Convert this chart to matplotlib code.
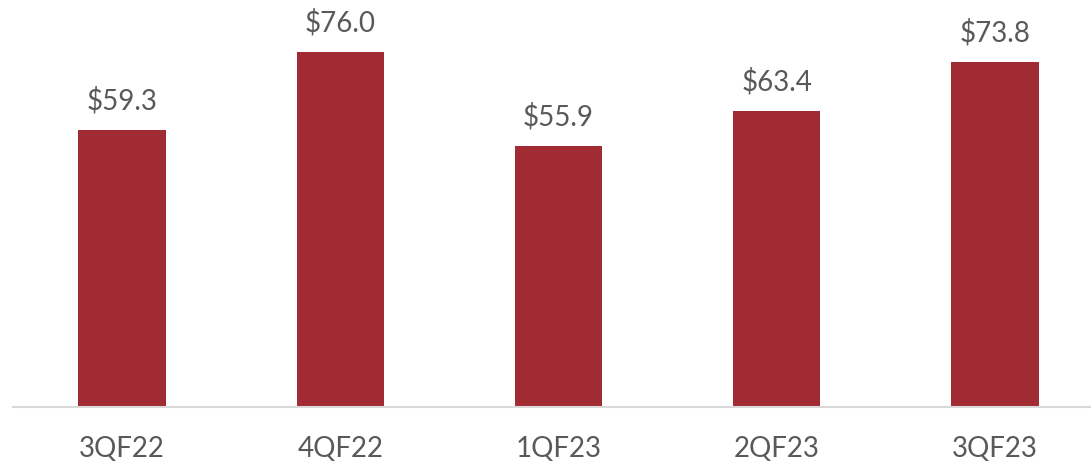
import matplotlib
matplotlib.use("Agg")
import matplotlib.pyplot as plt

quarters = ["3QF22", "4QF22", "1QF23", "2QF23", "3QF23"]
values = [59.3, 76.0, 55.9, 63.4, 73.8]

bar_color = "#A02B33"
text_color = "#595959"

plt.rcParams['font.family'] = ['Lato', 'DejaVu Sans']

fig = plt.figure(figsize=(10.91, 4.63), dpi=100)
ax = fig.add_axes([13 / 1091, 56 / 463, 1 - 13 / 1091, 407 / 463])

x = range(len(quarters))
bars = ax.bar(x, values, width=0.4, color=bar_color)

for xi, v in zip(x, values):
    ax.annotate("${:.1f}".format(v), (xi, v), xytext=(0, 11), textcoords="offset points",
                ha="center", va="bottom", fontsize=20, color=text_color)

ax.set_xlim(-0.50, 4.44)
ax.set_ylim(0, 87.1)
ax.set_xticks(list(x))
ax.set_xticklabels(quarters, fontsize=20, color=text_color)
ax.tick_params(axis="x", length=0, pad=21)
ax.set_yticks([])
for s in ["top", "right", "left"]:
    ax.spines[s].set_visible(False)
ax.spines["bottom"].set_color("#D9D9D9")
ax.spines["bottom"].set_linewidth(1.5)

fig.savefig("out.png", dpi=100)
